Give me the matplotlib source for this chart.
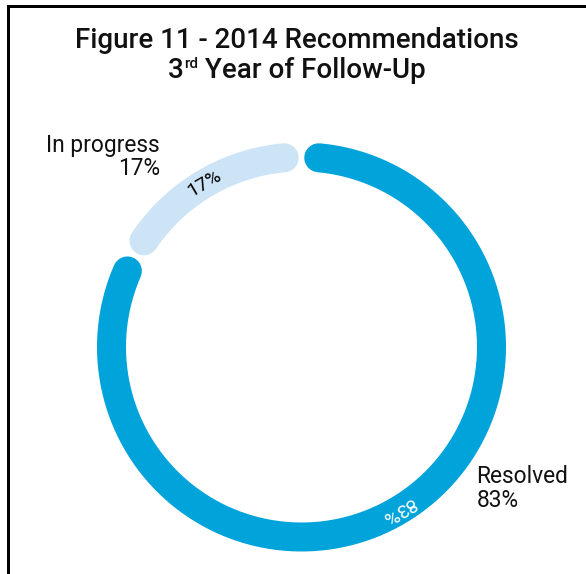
import numpy as np
import matplotlib
matplotlib.use("Agg")
import matplotlib.pyplot as plt

plt.rcParams['font.family'] = ['Roboto', 'DejaVu Sans']

# Data
categories = ["Resolved", "In progress"]
values = [83, 17]
colors = ["#00A3DA", "#CDE4F7"]
inner_text_colors = ["white", "black"]
title_line1 = "Figure 11 - 2014 Recommendations"

W, H = 586, 574
DPI = 100
fig = plt.figure(figsize=(W / DPI, H / DPI), dpi=DPI)
ax = fig.add_axes([0, 0, 1, 1])
ax.set_xlim(0, W)
ax.set_ylim(H, 0)
ax.set_aspect('equal')
ax.axis('off')

px = 72.0 / DPI  # pixels -> points

# Frame (left and top rules)
ax.plot([8, 8, W], [H, 6, 6], color='black', lw=3 * px, solid_capstyle='butt',
        solid_joinstyle='miter')

# Donut ring
cx, cy = 301.5, 347.0
r = 190.0
ring_w = 29.0
gap_deg = 5.2

total = float(sum(values))
start = 90.0
for val, col, tcol in zip(values, colors, inner_text_colors):
    sweep = 360.0 * val / total
    a0 = start - gap_deg
    a1 = start - sweep + gap_deg
    th = np.radians(np.linspace(a0, a1, 400))
    ax.plot(cx + r * np.cos(th), cy - r * np.sin(th), color=col,
            lw=ring_w * px, solid_capstyle='round')
    mid = start - sweep / 2.0
    mr = np.radians(mid)
    rot = (mid - 90.0) % 360.0
    ax.text(cx + r * np.cos(mr), cy - r * np.sin(mr), f"{val}%",
            color=tcol, fontsize=14, rotation=rot, rotation_mode='anchor',
            ha='center', va='center')
    start -= sweep

# Outer labels
lfs = 16.4
ax.text(160, 151.7, categories[1], ha='right', va='baseline', fontsize=lfs, color='#111111')
ax.text(160, 175.0, f"{values[1]}%", ha='right', va='baseline', fontsize=lfs, color='#111111')
ax.text(476.5, 483.3, categories[0], ha='left', va='baseline', fontsize=lfs, color='#111111')
ax.text(476.5, 506.7, f"{values[0]}%", ha='left', va='baseline', fontsize=lfs, color='#111111')

# Title
tfs = 20.0
ax.text(297, 47.5, title_line1, ha='center', va='baseline', fontsize=tfs,
        fontweight='medium', color='#111111')

# Second title line with a superscript ordinal
fig.canvas.draw()
renderer = fig.canvas.get_renderer()
parts = [("3", tfs, 0.0), ("rd", tfs * 0.55, -10.0), (" Year of Follow-Up", tfs, 0.0)]
widths = []
for s, fs, _ in parts:
    t = ax.text(0, 0, s, fontsize=fs, fontweight='medium')
    bb = t.get_window_extent(renderer)
    widths.append(bb.width)
    t.remove()
x = 297.0 - sum(widths) / 2.0
base_y = 78.5
for (s, fs, dy), w in zip(parts, widths):
    ax.text(x, base_y + dy, s, ha='left', va='baseline', fontsize=fs,
            fontweight='medium', color='#111111')
    x += w

fig.savefig("out.png", dpi=DPI)
